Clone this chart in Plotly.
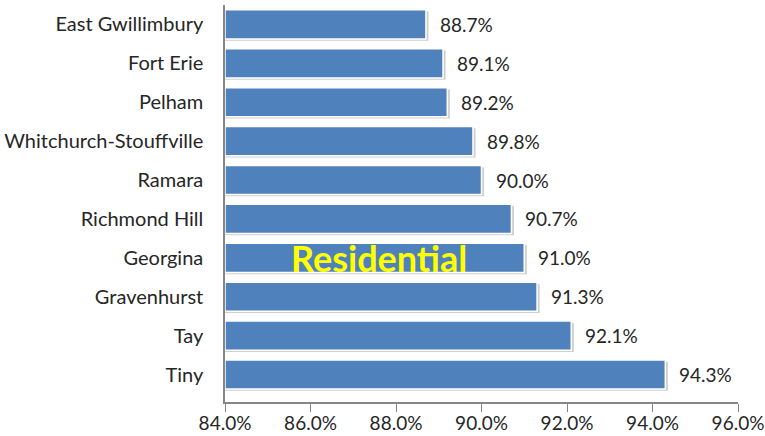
import plotly.graph_objects as go

categories = ["East Gwillimbury", "Fort Erie", "Pelham", "Whitchurch-Stouffville",
              "Ramara", "Richmond Hill", "Georgina", "Gravenhurst", "Tay", "Tiny"]
values = [88.7, 89.1, 89.2, 89.8, 90.0, 90.7, 91.0, 91.3, 92.1, 94.3]
tick_vals = [84, 86, 88, 90, 92, 94, 96]
tick_text = ["84.0%", "86.0%", "88.0%", "90.0%", "92.0%", "94.0%", "96.0%"]
label_text = [f"{v:.1f}%" for v in values]

FONT = "Lato"
idx = list(range(len(categories)))

fig = go.Figure()
# soft shadow behind each bar
fig.add_trace(go.Bar(
    x=[v - 84 + 0.06 for v in values], base=84, y=idx, orientation="h",
    width=0.75, offset=-0.33,
    marker=dict(color="#CFCFCF", line=dict(width=0)),
    hoverinfo="skip",
))
fig.add_trace(go.Bar(
    x=[v - 84 for v in values], base=84, y=idx, orientation="h",
    width=0.75, offset=-0.375,
    marker=dict(color="#4F81BD", line=dict(color="white", width=1.5)),
    hoverinfo="skip",
))

for i, v, t in zip(idx, values, label_text):
    fig.add_annotation(x=v, y=i, text=t, xanchor="left", yanchor="middle",
                       xshift=12, showarrow=False,
                       font=dict(family=FONT, size=19, color="#262626"))

fig.add_annotation(x=0.30, y=6, xref="paper", yref="y", text="<b>Residential</b>",
                   showarrow=False, xanchor="center", yanchor="middle",
                   font=dict(family=FONT, size=36, color="#FFFF00"))

fig.update_layout(
    width=765, height=436,
    margin=dict(l=225, r=27, t=5, b=34),
    paper_bgcolor="white", plot_bgcolor="white",
    showlegend=False, barmode="overlay",
    xaxis=dict(range=[84, 96], tickvals=tick_vals, ticktext=tick_text,
               automargin=False,
               showgrid=False, zeroline=False, showline=True, linecolor="#868686",
               linewidth=1.5, ticks="outside", ticklen=8, tickcolor="#868686",
               ticklabelstandoff=-5,
               tickfont=dict(family=FONT, size=19, color="#262626")),
    yaxis=dict(range=[9.707, -0.5], tickvals=idx, ticktext=categories,
               automargin=False,
               showgrid=False, zeroline=False, showline=True, linecolor="#868686",
               linewidth=1.5, ticks="", ticklen=0, ticklabelstandoff=16,
               tickfont=dict(family=FONT, size=20, color="#262626")),
)

fig.write_html("out.html", config={"displayModeBar": False},
               post_script="document.body.style.margin='0';")
